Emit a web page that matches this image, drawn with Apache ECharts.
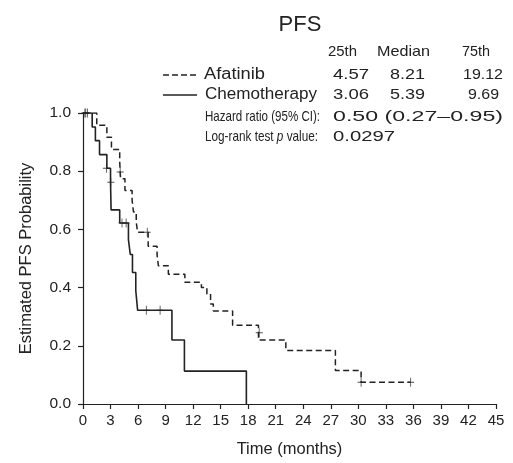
<!DOCTYPE html>
<html>
<head>
<meta charset="utf-8">
<script src="https://cdn.jsdelivr.net/npm/echarts@6/dist/echarts.min.js"></script>
<style>
  html, body { margin: 0; padding: 0; background: #fff; }
  #main { width: 513px; height: 463px; }
</style>
</head>
<body>
<div id="main"></div>
<script>
// Kaplan-Meier steps (time in months, survival)
var afaTimes = [0, 1.5, 2.6, 3.1, 4.0, 4.05, 4.1, 4.57, 5.35, 5.5, 5.8, 5.95, 7.1, 8.07, 8.21, 9.3, 11.1, 12.9, 13.5, 13.9, 14.2, 16.3, 19.12, 22.1, 27.5, 30.3, 35.7];
var afaSurv  = [1, 0.958, 0.917, 0.875, 0.833, 0.797, 0.774, 0.734, 0.70, 0.66, 0.625, 0.59, 0.542, 0.514, 0.475, 0.446, 0.418, 0.40, 0.378, 0.344, 0.32, 0.271, 0.22, 0.184, 0.115, 0.075, 0.075];
var afaCensorT = [0.2, 0.5, 4.05, 7.0, 19.2, 30.3, 35.7];
var afaCensorS = [1, 1, 0.797, 0.59, 0.245, 0.075, 0.075];

var chemoTimes = [0, 1.0, 1.35, 1.8, 2.6, 3.0, 3.06, 4.0, 4.95, 5.15, 5.39, 5.75, 5.95, 9.69, 11.05, 17.8];
var chemoSurv  = [1, 0.952, 0.905, 0.857, 0.81, 0.762, 0.667, 0.622, 0.565, 0.514, 0.452, 0.39, 0.322, 0.22, 0.113, 0];
var chemoCensorT = [0.3, 2.55, 3.03, 4.25, 4.7, 6.9, 8.4];
var chemoCensorS = [1, 0.81, 0.762, 0.622, 0.622, 0.322, 0.322];

var tableHead = ['25th', 'Median', '75th'];
var afaStats = ['4.57', '8.21', '19.12'];
var chemoStats = ['3.06', '5.39', '9.69'];
var hazardRatio = '0.50 (0.27\u20130.95)';
var logRankP = '0.0297';

function pairs(xs, ys) {
    return xs.map(function (x, i) { return [x, ys[i]]; });
}

var ink = '#222';
var font = '"Liberation Sans", Arial, Helvetica, sans-serif';
var plus = 'path://M-0.12,-1 L0.12,-1 L0.12,-0.12 L1,-0.12 L1,0.12 L0.12,0.12 L0.12,1 L-0.12,1 L-0.12,0.12 L-1,0.12 L-1,-0.12 L-0.12,-0.12 Z';

// the picture's type is wider/narrower than Liberation Sans, so stretch each piece to its width
var ctx = document.createElement('canvas').getContext('2d');
function measure(s, f) { ctx.font = f; return ctx.measureText(s).width; }

function fit(x, y, s, size, width) {
    var f = size + 'px ' + font;
    return {
        type: 'text', x: x, y: y, scaleX: width / measure(s, f),
        style: { x: 0, y: 0, text: s, font: f, fill: ink, textVerticalAlign: 'middle' }
    };
}

function fitLogRank(x, y, size, width) {
    var fn = size + 'px ' + font, fi = 'italic ' + size + 'px ' + font;
    var w = measure('Log-rank test ', fn) + measure('p', fi) + measure(' value:', fn);
    return {
        type: 'text', x: x, y: y, scaleX: width / w,
        style: {
            x: 0, y: 0, text: '{n|Log-rank test }{i|p}{n| value:}',
            rich: { n: { font: fn, fill: ink }, i: { font: fi, fill: ink } },
            textVerticalAlign: 'middle'
        }
    };
}

var chart = echarts.init(document.getElementById('main'));

var graphics = [
    fit(328, 52, tableHead[0], 15, 29),
    fit(377, 52, tableHead[1], 15, 53),
    fit(462, 52, tableHead[2], 15, 28),
    { type: 'line', shape: { x1: 163, y1: 75, x2: 197, y2: 75 }, style: { stroke: ink, lineWidth: 1.3, lineDash: [6, 3] } },
    { type: 'line', shape: { x1: 163, y1: 95, x2: 197, y2: 95 }, style: { stroke: ink, lineWidth: 1.3 } },
    fit(204, 75, 'Afatinib', 16, 61),
    fit(205, 95, 'Chemotherapy', 16, 112),
    fit(333, 75, afaStats[0], 15, 36),
    fit(390, 75, afaStats[1], 15, 35),
    fit(463, 75, afaStats[2], 15, 40),
    fit(333, 95, chemoStats[0], 15, 36),
    fit(390, 95, chemoStats[1], 15, 35),
    fit(468, 95, chemoStats[2], 15, 31),
    fit(205, 117, 'Hazard ratio (95% CI):', 15, 115),
    fit(333, 117, hazardRatio, 15, 170),
    fitLogRank(205, 137, 15, 113),
    fit(333, 137, logRankP, 15, 62)
];

var option = {
    backgroundColor: '#fff',
    animation: false,
    title: {
        text: 'PFS', left: 295, top: 9, textAlign: 'center',
        textStyle: { fontFamily: font, fontSize: 22, fontWeight: 'normal', color: ink }
    },
    grid: { left: 83, right: 17, top: 113, bottom: 55 },
    xAxis: {
        type: 'value', min: 0, max: 45, interval: 3,
        name: 'Time (months)', nameLocation: 'middle', nameGap: 37,
        nameTextStyle: { fontFamily: font, fontSize: 16.5, color: ink },
        axisLine: { lineStyle: { color: ink, width: 1.2 } },
        axisTick: { show: true, length: 5, lineStyle: { color: ink, width: 1.2 } },
        axisLabel: { fontFamily: font, fontSize: 15, color: ink, margin: 9 },
        splitLine: { show: false }
    },
    yAxis: {
        type: 'value', min: 0, max: 1, interval: 0.2,
        name: 'Estimated PFS Probability', nameLocation: 'middle', nameGap: 48,
        nameTextStyle: { fontFamily: font, fontSize: 16.5, color: ink },
        axisLine: { show: true, lineStyle: { color: ink, width: 1.2 } },
        axisTick: { show: true, length: 5, lineStyle: { color: ink, width: 1.2 } },
        axisLabel: { fontFamily: font, fontSize: 15.5, color: ink, margin: 12, formatter: function (v) { return v.toFixed(1); } },
        splitLine: { show: false }
    },
    graphic: graphics,
    series: [
        {
            name: 'Afatinib', type: 'line', step: 'end', symbol: 'none',
            data: pairs(afaTimes, afaSurv),
            lineStyle: { color: ink, width: 1.5, type: [6, 3.5] }
        },
        {
            name: 'Chemotherapy', type: 'line', step: 'end', symbol: 'none',
            data: pairs(chemoTimes, chemoSurv),
            lineStyle: { color: ink, width: 1.6 }
        },
        {
            type: 'scatter', symbol: plus, symbolSize: [7, 9],
            data: pairs(afaCensorT, afaCensorS),
            itemStyle: { color: ink }
        },
        {
            type: 'scatter', symbol: plus, symbolSize: [7, 9],
            data: pairs(chemoCensorT, chemoCensorS),
            itemStyle: { color: ink }
        }
    ]
};

chart.setOption(option);
</script>
</body>
</html>
